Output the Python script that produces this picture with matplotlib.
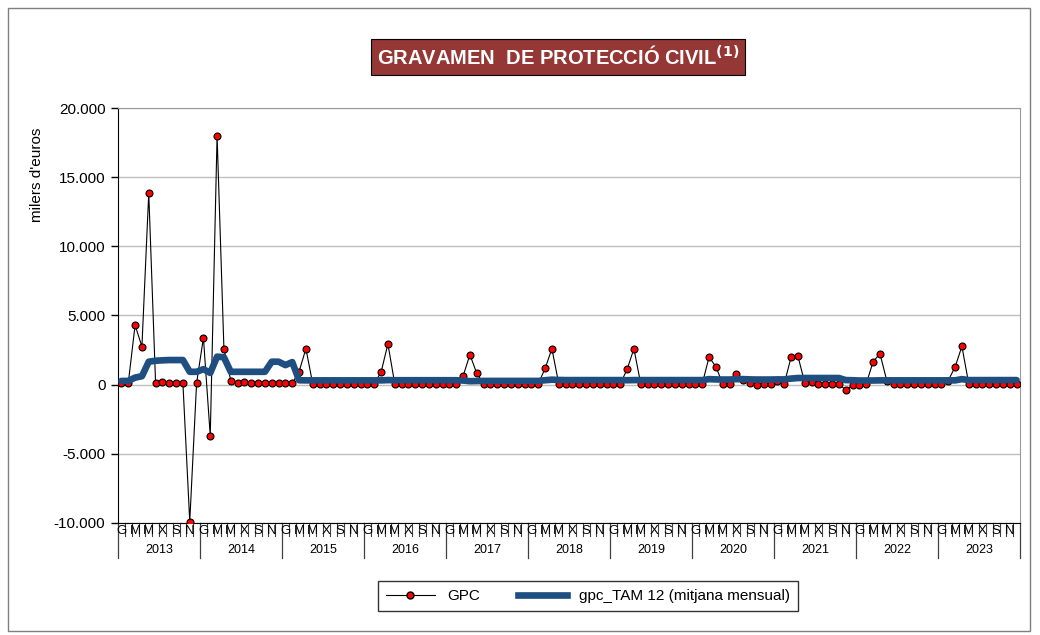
import numpy as np
import matplotlib.pyplot as plt
from matplotlib.patches import Rectangle
from matplotlib.lines import Line2D

# Dades (milers d'euros), mensuals gener 2013 - desembre 2023
years = ['2013', '2014', '2015', '2016', '2017', '2018', '2019', '2020', '2021', '2022', '2023']
month_letters = ['G', '', 'M', '', 'M', '', 'X', '', 'S', '', 'N', '']

gpc_2013 = [100, 100, 4300, 2750, 13850, 100, 200, 100, 100, 100, -9900, 100]
gpc_2014 = [3400, -3700, 18000, 2600, 300, 100, 200, 100, 100, 100, 100, 100]
gpc_2015 = [100, 100, 950, 2600, 60, 60, 60, 60, 60, 60, 60, 60]
gpc_2016 = [80, 80, 900, 2950, 60, 60, 60, 60, 60, 60, 60, 60]
gpc_2017 = [80, 80, 620, 2170, 820, 60, 60, 60, 60, 60, 60, 60]
gpc_2018 = [60, 60, 1170, 2600, 60, 60, 60, 60, 60, 60, 60, 60]
gpc_2019 = [60, 60, 1100, 2600, 60, 60, 60, 60, 60, 60, 60, 60]
gpc_2020 = [60, 60, 2000, 1290, 60, 60, 800, 350, 120, -20, 80, 80]
gpc_2021 = [300, 70, 1980, 2070, 120, 170, 70, 70, 70, 70, -400, -20]
gpc_2022 = [0, 80, 1650, 2250, 300, 60, 60, 60, 60, 60, 60, 60]
gpc_2023 = [80, 300, 1280, 2770, 60, 60, 60, 60, 60, 60, 60, 60]

tam_2013 = [270, 270, 510, 610, 1660, 1730, 1760, 1780, 1780, 1780, 930, 930]
tam_2014 = [1120, 850, 2025, 1980, 930, 930, 930, 930, 930, 930, 1660, 1660]
tam_2015 = [1415, 1630, 320, 310, 310, 310, 310, 310, 310, 310, 310, 310]
tam_2016 = [310, 310, 310, 330, 320, 320, 320, 320, 320, 320, 320, 320]
tam_2017 = [320, 320, 300, 250, 260, 270, 270, 270, 270, 270, 270, 270]
tam_2018 = [270, 270, 320, 360, 340, 330, 330, 330, 330, 330, 330, 330]
tam_2019 = [330, 330, 320, 330, 330, 330, 330, 330, 330, 330, 330, 330]
tam_2020 = [330, 330, 400, 380, 370, 370, 400, 400, 380, 370, 370, 370]
tam_2021 = [380, 380, 440, 480, 480, 480, 480, 480, 480, 480, 330, 320]
tam_2022 = [300, 300, 300, 310, 310, 310, 310, 310, 310, 310, 310, 310]
tam_2023 = [310, 310, 310, 400, 330, 330, 330, 330, 330, 330, 330, 330]

gpc = np.array(gpc_2013 + gpc_2014 + gpc_2015 + gpc_2016 + gpc_2017 + gpc_2018
               + gpc_2019 + gpc_2020 + gpc_2021 + gpc_2022 + gpc_2023)
tam = np.array(tam_2013 + tam_2014 + tam_2015 + tam_2016 + tam_2017 + tam_2018
               + tam_2019 + tam_2020 + tam_2021 + tam_2022 + tam_2023)
x = np.arange(len(gpc))

plt.rcParams['font.family'] = ['Liberation Sans', 'DejaVu Sans']

fig = plt.figure(figsize=(10.4, 6.35), dpi=100)
ax = fig.add_axes([118 / 1040, 1 - 523 / 635, 902 / 1040, 415 / 635])

# contorn del gràfic
fig.patches.append(Rectangle((8 / 1040, 4 / 635), 1022 / 1040, 623 / 635,
                             transform=fig.transFigure, fill=False,
                             edgecolor='#7f7f7f', linewidth=1))

ax.plot(x, gpc, color='black', linewidth=0.8, marker='o', markersize=5,
        markerfacecolor='#ff0000', markeredgecolor='black', markeredgewidth=0.8,
        label='GPC', zorder=3)
ax.plot(x, tam, color='#1f4e80', linewidth=4.8, solid_capstyle='round',
        label='gpc_TAM 12 (mitjana mensual)', zorder=4)

ax.set_xlim(-0.5, len(gpc) - 0.5)
ax.set_ylim(-10000, 20000)
ax.set_yticks(np.arange(-10000, 20001, 5000))
ax.set_yticklabels([f'{v:,}'.replace(',', '.') for v in range(-10000, 20001, 5000)],
                   fontsize=11)
ax.tick_params(axis='y', direction='out', length=5, width=1, pad=4)
ax.grid(axis='y', color='#bfbfbf', linewidth=1)
ax.set_axisbelow(True)
ax.set_xticks([])
for s in ['top', 'right']:
    ax.spines[s].set_color('#9a9a9a')
ax.spines['left'].set_color('black')
ax.spines['bottom'].set_color('black')

# eix de categories en dos nivells
tr = ax.get_xaxis_transform()
for i in range(len(gpc)):
    lab = month_letters[i % 12]
    if lab:
        ax.text(i, -0.019, lab, transform=tr, ha='center', va='center',
                fontsize=9.5, clip_on=False)
    if i % 12 == 0:
        ax.plot([i - 0.5, i - 0.5], [0, -0.085], transform=tr, color='#404040',
                linewidth=0.9, clip_on=False)
    else:
        ax.plot([i - 0.5, i - 0.5], [0, -0.032], transform=tr, color='#404040',
                linewidth=0.8, clip_on=False)
ax.plot([len(gpc) - 0.5] * 2, [0, -0.085], transform=tr, color='#404040',
        linewidth=0.9, clip_on=False)
for k, yr in enumerate(years):
    ax.text(12 * k + 5.5, -0.064, yr, transform=tr, ha='center', va='center',
            fontsize=9, clip_on=False)

fig.text(37 / 1040, 1 - 175 / 635, "milers d'euros", rotation=90,
         ha='center', va='center', fontsize=11)

# títol
fig.text(558 / 1040, 1 - 57 / 635, 'GRAVAMEN  DE PROTECCIÓ CIVIL$^{\\mathbf{(1)}}$',
         ha='center', va='center', color='white', fontsize=14.5, fontweight='bold',
         bbox=dict(boxstyle='square,pad=0.3', facecolor='#953735',
                   edgecolor='black', linewidth=0.8))

handles = [Line2D([], [], color='black', linewidth=0.8, marker='o', markersize=5,
                  markerfacecolor='#ff0000', markeredgecolor='black'),
           Line2D([], [], color='#1f4e80', linewidth=4.8)]
fig.legend(handles, ['GPC', 'gpc_TAM 12 (mitjana mensual)'], ncol=2,
           loc='center', bbox_to_anchor=(588 / 1040, 1 - 596 / 635),
           fontsize=11, frameon=True, fancybox=False, edgecolor='black',
           handlelength=3.2, columnspacing=2.5, borderpad=0.5)

fig.savefig('out.png', dpi=100)
